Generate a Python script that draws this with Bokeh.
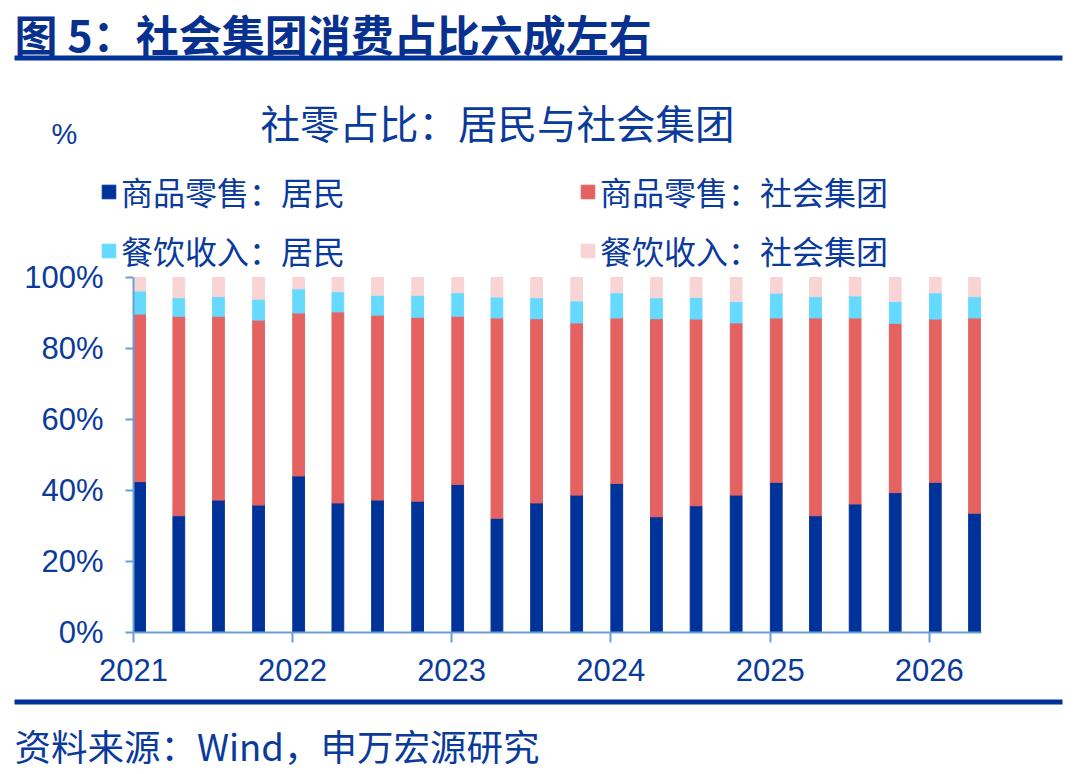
import pandas as pd
from bokeh.plotting import figure
from bokeh.models import (ColumnDataSource, Range1d, FixedTicker, PrintfTickFormatter,
                          DatetimeTickFormatter, Label, Legend, LegendItem, BoxAnnotation,
                          LinearAxis, DatetimeAxis)
from bokeh.embed import file_html
from bokeh.resources import INLINE

# ---------------- data ----------------
quarters = ["2021Q1", "2021Q2", "2021Q3", "2021Q4",
            "2022Q1", "2022Q2", "2022Q3", "2022Q4",
            "2023Q1", "2023Q2", "2023Q3", "2023Q4",
            "2024Q1", "2024Q2", "2024Q3", "2024Q4",
            "2025Q1", "2025Q2", "2025Q3", "2025Q4",
            "2026Q1", "2026Q2"]
goods_household = [42.5, 32.9, 37.3, 35.9, 44.1, 36.5, 37.3, 37.0, 41.7, 32.2, 36.5,
                   38.7, 42.0, 32.6, 35.7, 38.7, 42.3, 32.9, 36.2, 39.4, 42.3, 33.6]
goods_group = [47.2, 56.2, 51.8, 52.1, 45.9, 53.8, 52.1, 51.8, 47.4, 56.4, 51.9,
               48.5, 46.6, 55.8, 52.6, 48.5, 46.3, 55.7, 52.4, 47.7, 46.0, 55.0]
catering_household = [6.5, 5.2, 5.5, 5.9, 6.8, 5.7, 5.6, 6.2, 6.6, 5.9, 5.9,
                      6.2, 7.1, 5.9, 6.1, 6.0, 7.0, 6.0, 6.2, 6.1, 7.4, 6.0]
catering_group = [3.8, 5.7, 5.4, 6.1, 3.2, 4.0, 5.0, 5.0, 4.3, 5.5, 5.7,
                  6.6, 4.3, 5.7, 5.6, 6.8, 4.4, 5.4, 5.2, 6.8, 4.3, 5.4]
series_names = ["商品零售：居民", "商品零售：社会集团", "餐饮收入：居民", "餐饮收入：社会集团"]
year_ticks = [2021, 2022, 2023, 2024, 2025, 2026]
y_ticks = [0, 20, 40, 60, 80, 100]

main_title = "图 5：社会集团消费占比六成左右"
chart_title = "社零占比：居民与社会集团"
unit_label = "%"
source_note = "资料来源：Wind，申万宏源研究"

# ---------------- styles / layout ----------------
colors = ["#003399", "#E56262", "#66D9FF", "#F9D4D4"]
NAVY = "#0A3A9C"
RULE = "#003399"
AXIS = "#6A9FD6"
CJK = "Noto Sans CJK SC"
LAT = "Liberation Sans"
W, H = 1072, 774
# plot-area placement on the canvas (pixels from top-left)
PL, PR, PT, PB = 133, 981, 277, 632
Y0, Y1 = 0, 100
T0 = pd.Timestamp("2021-01-01").value / 1e6
T1 = pd.Timestamp("2026-05-01").value / 1e6
ms_px = (T1 - T0) / (PR - PL)
u_px = (Y1 - Y0) / (PB - PT)
DAY_MS = 86400000


def sy(page_y):
    return H - page_y


dates = pd.PeriodIndex(quarters, freq="Q").to_timestamp() + pd.Timedelta(days=14)
keys = ["gh", "gg", "ch", "cg"]
src = ColumnDataSource(dict(date=dates, gh=goods_household, gg=goods_group,
                            ch=catering_household, cg=catering_group))

p = figure(width=W, height=H,
           x_range=Range1d(T0 - PL * ms_px, T1 + (W - PR) * ms_px),
           y_range=Range1d(Y0 - (H - PB) * u_px, Y1 + PT * u_px),
           x_axis_location=None, y_axis_location=None,
           min_border=0, toolbar_location=None, output_backend="svg")
p.grid.visible = False
p.outline_line_color = None
p.background_fill_color = "white"
p.border_fill_color = "white"

rs = p.vbar_stack(keys, x="date", width=27 * DAY_MS, source=src, color=colors)

xaxis = DatetimeAxis(fixed_location=Y0, bounds=(T0, T1),
                     ticker=FixedTicker(ticks=[pd.Timestamp(f"{y}-01-01").value // 10**6
                                               for y in year_ticks]),
                     formatter=DatetimeTickFormatter(years="%Y", months="%Y", days="%Y"))
yaxis = LinearAxis(fixed_location=T0, bounds=(Y0, Y1), ticker=FixedTicker(ticks=y_ticks),
                   formatter=PrintfTickFormatter(format="%d%%"))
for ax in (xaxis, yaxis):
    ax.axis_line_color = AXIS
    ax.axis_line_width = 2
    ax.major_tick_line_color = AXIS
    ax.major_tick_line_width = 2
    ax.major_tick_in = 0
    ax.minor_tick_line_color = None
    ax.major_label_text_font = LAT
    ax.major_label_text_font_size = "31px"
    ax.major_label_text_color = NAVY
xaxis.major_tick_out = 10
xaxis.major_label_standoff = 16
yaxis.major_tick_out = 8
yaxis.major_label_standoff = 22
p.add_layout(xaxis, "below")
p.add_layout(yaxis, "left")

# header
p.add_layout(Label(x=14, y=sy(32.5), x_units="screen", y_units="screen", text=main_title,
                   text_font=CJK, text_font_style="bold", text_font_size="43px",
                   text_color="#07308F", text_baseline="middle"))
p.add_layout(BoxAnnotation(left=14, right=1062, top=sy(55), bottom=sy(60),
                           left_units="screen", right_units="screen",
                           top_units="screen", bottom_units="screen",
                           fill_color=RULE, fill_alpha=1, line_color=None))
p.add_layout(Label(x=260, y=sy(121), x_units="screen", y_units="screen", text=chart_title,
                   text_font=CJK, text_font_size="39.5px", text_color=NAVY,
                   text_baseline="middle"))
p.add_layout(Label(x=51, y=sy(133), x_units="screen", y_units="screen", text=unit_label,
                   text_font=LAT, text_font_size="29px", text_color=NAVY,
                   text_baseline="middle"))

legend = Legend(items=[LegendItem(label=n, renderers=[r]) for n, r in zip(series_names, rs)],
                location=(100, sy(273)), orientation="horizontal", ncols=2,
                glyph_width=17, glyph_height=17, label_standoff=4, spacing=13,
                label_width=445, padding=0, margin=0,
                border_line_color=None, background_fill_alpha=0,
                label_text_font=CJK, label_text_font_size="32px", label_text_color=NAVY)
p.add_layout(legend)

# footer
p.add_layout(BoxAnnotation(left=14, right=1062, top=sy(699), bottom=sy(704),
                           left_units="screen", right_units="screen",
                           top_units="screen", bottom_units="screen",
                           fill_color=RULE, fill_alpha=1, line_color=None))
p.add_layout(Label(x=14, y=sy(745), x_units="screen", y_units="screen", text=source_note,
                   text_font=CJK, text_font_size="36.5px", text_color=NAVY,
                   text_baseline="middle"))

open("out.html", "w").write(file_html(p, INLINE))
